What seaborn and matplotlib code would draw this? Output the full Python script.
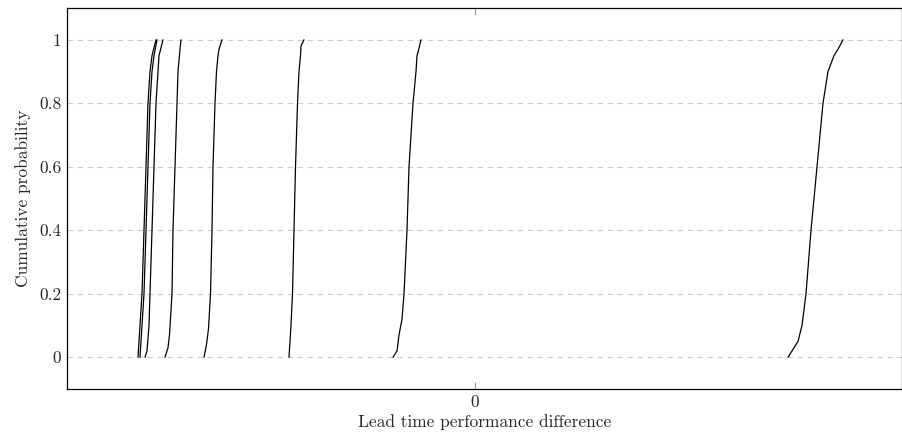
import numpy as np
import pandas as pd
import matplotlib
matplotlib.use("Agg")
import matplotlib.pyplot as plt
import seaborn as sns

# cumulative probability levels read for each curve, and the x positions at them
curve_a1_p = [0, 0.05, 0.2, 0.4, 0.6, 0.8, 0.9, 0.95, 1.0]
curve_a1_x = [-3.37, -3.36, -3.33, -3.31, -3.29, -3.27, -3.25, -3.23, -3.19]
curve_a2_p = [0, 0.05, 0.2, 0.4, 0.6, 0.8, 0.9, 0.95, 1.0]
curve_a2_x = [-3.35, -3.34, -3.31, -3.29, -3.27, -3.25, -3.23, -3.21, -3.18]
curve_b_p = [0, 0.02, 0.1, 0.2, 0.4, 0.6, 0.8, 0.9, 0.95, 1.0]
curve_b_x = [-3.30, -3.28, -3.26, -3.25, -3.23, -3.21, -3.19, -3.17, -3.16, -3.12]
curve_c_p = [0, 0.03, 0.07, 0.2, 0.4, 0.6, 0.8, 0.9, 0.97, 1.0]
curve_c_x = [-3.10, -3.07, -3.055, -3.03, -3.02, -3.00, -2.98, -2.97, -2.95, -2.94]
curve_d_p = [0, 0.04, 0.09, 0.2, 0.4, 0.6, 0.8, 0.9, 0.95, 0.97, 1.0]
curve_d_x = [-2.71, -2.685, -2.665, -2.645, -2.63, -2.62, -2.60, -2.585, -2.57, -2.56, -2.53]
curve_e_p = [0, 0.1, 0.2, 0.4, 0.6, 0.8, 0.9, 0.95, 0.98, 1.0]
curve_e_x = [-1.86, -1.84, -1.825, -1.81, -1.795, -1.775, -1.76, -1.745, -1.74, -1.71]
curve_f_p = [0, 0.02, 0.07, 0.12, 0.2, 0.4, 0.6, 0.8, 0.9, 0.95, 0.96, 1.0]
curve_f_x = [-0.82, -0.78, -0.76, -0.73, -0.71, -0.68, -0.66, -0.62, -0.59, -0.58, -0.57, -0.54]
curve_g_p = [0, 0.03, 0.05, 0.1, 0.2, 0.4, 0.6, 0.8, 0.9, 0.95, 0.97, 1.0]
curve_g_x = [3.13, 3.19, 3.23, 3.27, 3.31, 3.36, 3.42, 3.48, 3.53, 3.59, 3.63, 3.68]

curves = [
    (curve_a1_x, curve_a1_p),
    (curve_a2_x, curve_a2_p),
    (curve_b_x, curve_b_p),
    (curve_c_x, curve_c_p),
    (curve_d_x, curve_d_p),
    (curve_e_x, curve_e_p),
    (curve_f_x, curve_f_p),
    (curve_g_x, curve_g_p),
]

x_ticks = [0]
y_ticks = [0, 0.2, 0.4, 0.6, 0.8, 1]
y_tick_labels = ["0", "0.2", "0.4", "0.6", "0.8", "1"]

sns.set_style("white")
plt.rcParams["font.family"] = ["cmr10", "DejaVu Serif"]
plt.rcParams["mathtext.fontset"] = "cm"
plt.rcParams["axes.formatter.use_mathtext"] = True

fig = plt.figure(figsize=(9.03, 4.36), dpi=100)
ax = fig.add_axes([67 / 903, 47 / 436, 835 / 903, 381 / 436])

for xs, ps in curves:
    sns.lineplot(x=xs, y=ps, sort=False, estimator=None, color="black",
                 linewidth=0.9, ax=ax)

ax.set_xlim(-4.08, 4.27)
ax.set_ylim(-0.1, 1.1)
ax.set_xticks(x_ticks)
ax.set_xticklabels(["0"])
ax.set_yticks(y_ticks)
ax.set_yticklabels(y_tick_labels)
ax.grid(axis="y", linestyle=(0, (5, 4)), color="#cccccc", linewidth=0.8)
ax.grid(axis="x", visible=False)
ax.tick_params(axis="x", direction="in", length=5, color="#999999",
               top=True, bottom=True, labelsize=12.5, pad=4)
ax.tick_params(axis="y", length=0, labelsize=12.5, pad=4)
for s in ax.spines.values():
    s.set_color("black")
    s.set_linewidth(0.9)

ax.set_xlabel("Lead time performance difference", fontsize=12.5, labelpad=3)
ax.set_ylabel("Cumulative probability", fontsize=12.5, labelpad=6)

fig.savefig("out.png", dpi=100)
